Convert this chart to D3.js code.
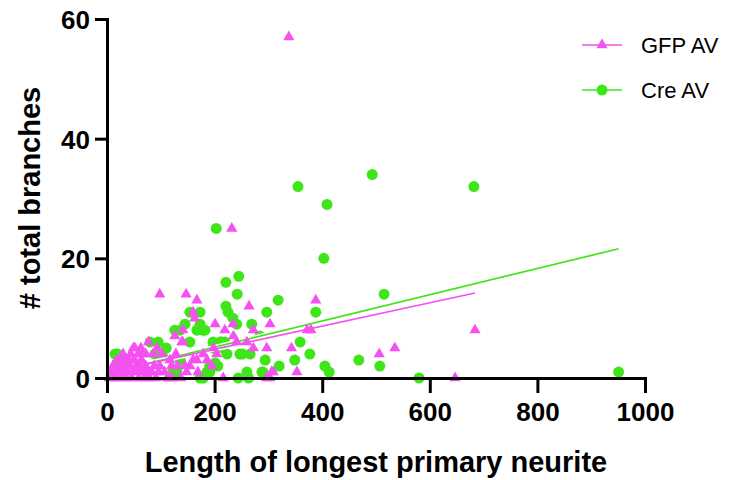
<!DOCTYPE html>
<html>
<head>
<meta charset="utf-8">
<script src="https://cdn.jsdelivr.net/npm/d3@7"></script>
<style>
  body { margin: 0; background: #fff; }
  svg { font-family: "Liberation Sans", Arial, Helvetica, sans-serif; }
</style>
</head>
<body>
<script>
// length of longest primary neurite vs # total branches
var gfpPoints = [
    [338,57],[232,25],[98,14],[147,14],[167,13],[388,13],[264,12],[160,11],[163,10],[201,9],
    [234,9],[303,9],[219,8],[272,8],[372,8],[379,8],[141,8],[235,7],[126,7],[241,6],
    [260,6],[141,6],[139,6],[77,6],[272,5],[297,5],[343,5],[198,5],[49,5],[63,5],
    [52,5],[93,5],[535,5],[179,4],[204,4],[86,4],[102,4],[506,4],[186,3],[167,3],
    [117,3],[160,3],[154,2],[120,2],[98,2],[145,2],[195,2],[148,1],[169,1],[309,1],
    [353,1],[306,1],[216,0],[303,0],[117,0],[121,0],[297,0],[647,0],[684,8],
    [4,0],[7,1],[9,0],[11,2],[13,1],[16,0],[18,3],[21,1],[23,2],[26,0],
    [28,1],[31,3],[33,2],[36,0],[38,1],[41,3],[43,2],[46,0],[48,1],[51,3],
    [54,2],[57,1],[59,0],[62,2],[64,3],[67,1],[70,0],[72,2],[75,1],[79,0],
    [83,1],[88,2],[91,0],[96,1],[44,4],[30,4],[58,4],[25,3],[66,4],[107,1],
    [112,0],[131,2],[137,0],[128,4],[72,4]
];
var crePoints = [
    [493,34],[682,32],[355,32],[409,29],[203,25],[403,20],[245,17],[221,16],[242,14],[515,14],
    [318,13],[221,12],[225,11],[297,11],[388,11],[154,11],[173,11],[234,10],[269,9],[241,9],
    [145,9],[173,9],[182,8],[136,8],[126,8],[178,8],[167,8],[284,7],[197,6],[213,6],
    [219,6],[210,6],[154,6],[95,6],[80,6],[359,6],[216,5],[197,5],[223,4],[247,4],
    [251,4],[266,4],[377,4],[89,4],[20,4],[15,4],[349,3],[294,3],[468,3],[136,3],
    [104,3.5],[201,2.5],[24,2.5],[320,2],[206,2],[191,2],[405,2],[507,2],[61,2],[260,1],
    [288,1],[290,1],[191,1],[186,1],[130,1],[123,1],[413,1],[951,1],[244,0],[179,0],
    [173,0],[263,0],[580,0],[35,3],[30,1],[110,5]
];
// linear fits, [start, end] in data units
var gfpFit = [[10, 1.1], [684, 14.2]];
var creFit = [[10, 1.0], [951, 21.6]];

var xTicks = [0, 200, 400, 600, 800, 1000];
var yTicks = [0, 20, 40, 60];
var seriesNames = ["GFP AV", "Cre AV"];

var magenta = "#f64ff2",
    green = "#3ee619",
    width = 730,
    height = 480;

var svg = d3.select("body").append("svg")
    .attr("width", width)
    .attr("height", height);

var x = d3.scaleLinear().domain([0, 1000]).range([107, 645]);
var y = d3.scaleLinear().domain([0, 60]).range([378, 19]);

var tri = d3.symbol().type(d3.symbolTriangle).size(54);

// green points
svg.append("g").selectAll("circle")
    .data(crePoints)
    .enter().append("circle")
    .attr("cx", d => x(d[0]))
    .attr("cy", d => y(d[1]))
    .attr("r", 5.5)
    .style("fill", green);

// fit lines with white halo
var line = d3.line().x(d => x(d[0])).y(d => y(d[1]));
[[creFit, green], [gfpFit, magenta]].forEach(function (f) {
    svg.append("path").attr("d", line(f[0]))
        .style("fill", "none").style("stroke", "#fff").style("stroke-width", 4.5);
});
[[creFit, green], [gfpFit, magenta]].forEach(function (f) {
    svg.append("path").attr("d", line(f[0]))
        .style("fill", "none").style("stroke", f[1]).style("stroke-width", 1.7);
});

// magenta points
svg.append("g").selectAll("path")
    .data(gfpPoints)
    .enter().append("path")
    .attr("d", tri)
    .attr("transform", d => "translate(" + x(d[0]) + "," + y(d[1]) + ")")
    .style("fill", magenta);

// axes
var xAxis = svg.append("g")
    .attr("transform", "translate(0," + y(0) + ")")
    .call(d3.axisBottom(x).tickValues(xTicks).tickFormat(d3.format("d"))
        .tickSize(15).tickSizeOuter(0).tickPadding(10));
var yAxis = svg.append("g")
    .attr("transform", "translate(" + x(0) + ",0)")
    .call(d3.axisLeft(y).tickValues(yTicks).tickFormat(d3.format("d"))
        .tickSize(12).tickSizeOuter(0).tickPadding(5));

[xAxis, yAxis].forEach(function (a) {
    a.select(".domain").style("stroke", "#000").style("stroke-width", 3).style("stroke-linecap", "square");
    a.selectAll(".tick line").style("stroke", "#000").style("stroke-width", 3);
    a.selectAll(".tick text")
        .style("font-family", "'Liberation Sans', Arial, sans-serif")
        .style("font-size", "26px").style("font-weight", "bold").style("fill", "#000");
});
yAxis.selectAll(".tick text").attr("dy", "0.36em");

// axis titles
svg.append("text")
    .attr("x", 376).attr("y", 472)
    .attr("text-anchor", "middle")
    .style("font-size", "29px").style("font-weight", "bold")
    .text("Length of longest primary neurite");

svg.append("text")
    .attr("transform", "translate(40,198) rotate(-90)")
    .attr("text-anchor", "middle")
    .style("font-size", "29px").style("font-weight", "bold")
    .text("# total branches");

// legend
var legend = svg.append("g");
var legendRows = [
    { name: seriesNames[0], color: magenta, ly: 45, shape: "tri" },
    { name: seriesNames[1], color: green, ly: 90, shape: "circle" }
];
legendRows.forEach(function (r) {
    legend.append("line")
        .attr("x1", 582).attr("x2", 622).attr("y1", r.ly).attr("y2", r.ly)
        .style("stroke", r.color).style("stroke-width", 1.7);
    if (r.shape === "tri") {
        legend.append("path").attr("d", tri)
            .attr("transform", "translate(602," + r.ly + ")")
            .style("fill", r.color);
    } else {
        legend.append("circle").attr("cx", 602).attr("cy", r.ly).attr("r", 5.5)
            .style("fill", r.color);
    }
    legend.append("text")
        .attr("x", 641).attr("y", r.ly).attr("dy", "0.36em")
        .style("font-size", "22px")
        .text(r.name);
});
</script>
</body>
</html>
